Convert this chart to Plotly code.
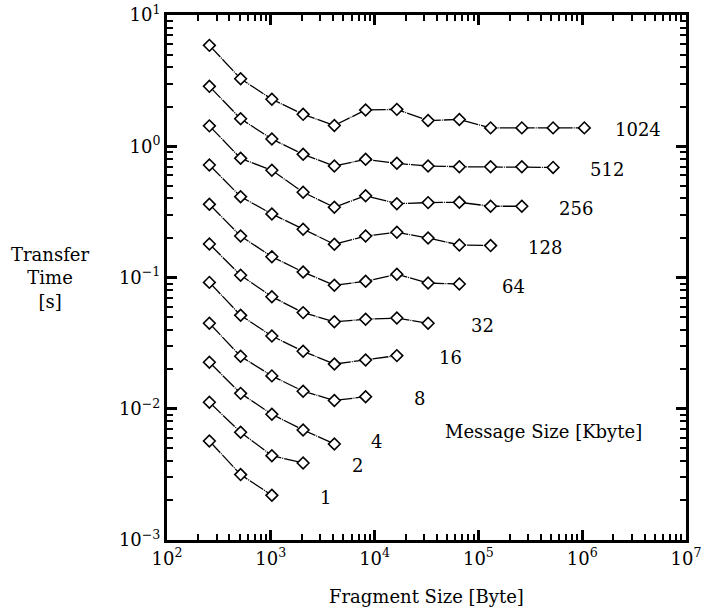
import math
import plotly.graph_objects as go

fragment_sizes = [256, 512, 1024, 2048, 4096, 8192, 16384, 32768, 65536,
                  131072, 262144, 524288, 1048576]
message_sizes = [1, 2, 4, 8, 16, 32, 64, 128, 256, 512, 1024]

t_1 = [0.00568, 0.00315, 0.00219]
t_2 = [0.0112, 0.00662, 0.00439, 0.00386]
t_4 = [0.0226, 0.0131, 0.00908, 0.00689, 0.00539]
t_8 = [0.0448, 0.0251, 0.0178, 0.0136, 0.01156, 0.01236]
t_16 = [0.0918, 0.0515, 0.0358, 0.0274, 0.0219, 0.0235, 0.0254]
t_32 = [0.180, 0.104, 0.0714, 0.0540, 0.0460, 0.0481, 0.0491, 0.0448]
t_64 = [0.361, 0.207, 0.144, 0.110, 0.0873, 0.0935, 0.106, 0.0908, 0.0892]
t_128 = [0.720, 0.413, 0.305, 0.233, 0.179, 0.207, 0.221, 0.200, 0.177, 0.175]
t_256 = [1.43, 0.809, 0.656, 0.446, 0.343, 0.420, 0.365, 0.372, 0.374, 0.349, 0.349]
t_512 = [2.86, 1.62, 1.135, 0.868, 0.707, 0.795, 0.741, 0.707, 0.698, 0.698, 0.698, 0.690]
t_1024 = [5.87, 3.27, 2.28, 1.75, 1.44, 1.89, 1.91, 1.57, 1.60, 1.38, 1.38, 1.38, 1.38]

series = [t_1, t_2, t_4, t_8, t_16, t_32, t_64, t_128, t_256, t_512, t_1024]

x_tick_exp = [2, 3, 4, 5, 6, 7]
y_tick_exp = [-3, -2, -1, 0, 1]

FONT = "DejaVu Serif"
TXT = dict(family=FONT, size=18, color="black")

fig = go.Figure()

for msize, times in zip(message_sizes, series):
    xs = fragment_sizes[:len(times)]
    fig.add_trace(go.Scatter(
        x=xs, y=times, mode="lines+markers",
        line=dict(color="black", width=1.3, dash="16px,1px,1px,1px"),
        marker=dict(symbol="diamond", size=9, color="white",
                    line=dict(width=1.6, color="black")),
        showlegend=False, name=f"{msize} Kbyte",
    ))
    off = 0.41 if msize == 4 else 0.52
    fig.add_annotation(
        x=math.log10(xs[-1]) + off, y=math.log10(times[-1]),
        text=str(msize), showarrow=False, yshift=(2 if msize == 4 else -2), font=TXT,
    )

fig.add_annotation(x=5.63, y=-2.177, text="Message Size [Kbyte]", showarrow=False,
                   font=TXT)
fig.add_annotation(x=-0.225, y=0.50, xref="paper", yref="paper",
                   text="Transfer<br>Time<br>[s]", showarrow=False, font=TXT,
                   xanchor="center", yanchor="middle")
fig.add_annotation(x=0.5, y=-0.108, xref="paper", yref="paper",
                   text="Fragment Size [Byte]", showarrow=False, font=TXT,
                   xanchor="center", yanchor="middle")

def axis_style(exps, show_labels):
    return dict(
        type="log", showgrid=False, zeroline=False, automargin=False,
        showline=True, linecolor="black", linewidth=3,
        ticks="inside", ticklen=10, tickwidth=3, tickcolor="black",
        tickvals=[10 ** e for e in exps],
        ticktext=[f"10<sup>{e}</sup>".replace("-", "\u2212") for e in exps],
        showticklabels=show_labels,
        tickfont=TXT,
        minor=dict(ticks="inside", ticklen=6, tickwidth=2, tickcolor="black",
                   dtick="D1", showgrid=False),
    )

fig.update_layout(
    width=706, height=609,
    margin=dict(l=167, r=20, t=15, b=69),
    plot_bgcolor="white", paper_bgcolor="white",
    font=TXT,
    xaxis=dict(range=[2, 7], **axis_style(x_tick_exp, True)),
    yaxis=dict(range=[-3, 1], **axis_style(y_tick_exp, True)),
    xaxis2=dict(range=[2, 7], overlaying="x", side="top", anchor="y",
                **axis_style(x_tick_exp, False)),
    yaxis2=dict(range=[-3, 1], overlaying="y", side="right", anchor="x",
                **axis_style(y_tick_exp, False)),
)

# invisible trace to activate the mirrored axes
fig.add_trace(go.Scatter(x=[fragment_sizes[0]], y=[t_1[0]], xaxis="x2", yaxis="y2",
                         mode="markers", marker=dict(opacity=0), showlegend=False,
                         hoverinfo="skip"))

fig.write_html("out.html", config={"displayModeBar": False},
               post_script="document.body.style.margin='0px';")
